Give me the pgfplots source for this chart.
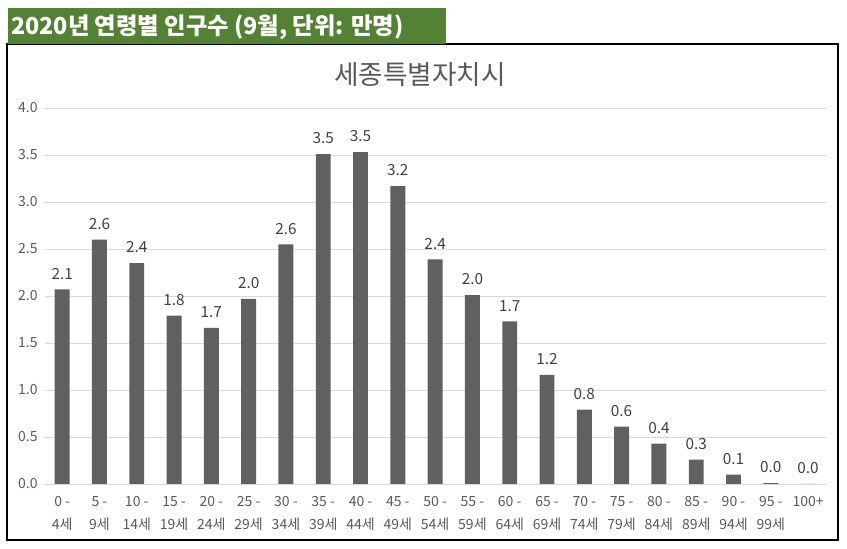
\documentclass[border=0pt]{standalone}
\usepackage{fontspec}
\setmainfont{Noto Sans CJK KR}
\usepackage{pgfplots}
\pgfplotsset{compat=1.18}
\definecolor{bargray}{HTML}{606060}
\definecolor{gridgray}{HTML}{D9D9D9}
\definecolor{txtgray}{HTML}{595959}
\definecolor{bannergreen}{HTML}{548235}
\begin{document}
\begin{tikzpicture}[x=0.75pt,y=0.75pt]
\path[fill=white] (0,0) rectangle (847,549);
% chart box
\draw[black, line width=0.8pt] (7,9) rectangle (838,505);
% banner
\fill[bannergreen] (8,505) rectangle (446,541);
\node[anchor=base west, text=white, font=\bfseries\fontsize{17.5}{19}\selectfont, inner sep=0pt] at (11,514) {2020년 연령별 인구수 (9월, 단위: 만명)};
% chart title
\node[text=txtgray, font=\fontsize{20}{22}\selectfont] at (420,474) {세종특별자치시};
\coordinate (A) at (45,65);
\begin{axis}[
  at={(A)}, anchor=south west,
  scale only axis,
  width=585.75pt, height=282pt,
  ymin=0, ymax=4,
  xmin=-0.46, xmax=20.48,
  ytick={0,0.5,...,4.0},
  /pgf/number format/fixed,
  /pgf/number format/fixed zerofill,
  /pgf/number format/precision=1,
  /pgf/number format/assume math mode=true,
  yticklabel style={text=txtgray, font=\fontsize{10.5}{12}\selectfont, xshift=-2pt},
  ymajorgrids, grid style={gridgray, line width=0.6pt},
  axis line style={draw=none},
  axis x line*=bottom,
  x axis line style={draw=gridgray, line width=0.6pt},
  major tick length=0pt,
  xtick=data,
  xticklabels={{0 -\\4세},{5 -\\9세},{10 -\\14세},{15 -\\19세},{20 -\\24세},{25 -\\29세},{30 -\\34세},{35 -\\39세},{40 -\\44세},{45 -\\49세},{50 -\\54세},{55 -\\59세},{60 -\\64세},{65 -\\69세},{70 -\\74세},{75 -\\79세},{80 -\\84세},{85 -\\89세},{90 -\\94세},{95 -\\99세},{100+}},
  xticklabel style={align=center, text=txtgray, font=\fontsize{10.5}{17}\selectfont, anchor=north, yshift=-6pt},
  ybar, bar width=0.4,
  nodes near coords,
  every node near coord/.append style={text=black!75, font=\fontsize{11.5}{13}\selectfont, yshift=4pt},
  clip=false,
]
\addplot[fill=bargray, draw=none] coordinates {
(0,2.07) (1,2.60) (2,2.35) (3,1.79) (4,1.66) (5,1.97) (6,2.55) (7,3.51) (8,3.53) (9,3.17)
(10,2.39) (11,2.01) (12,1.73) (13,1.16) (14,0.79) (15,0.61) (16,0.43) (17,0.26) (18,0.10) (19,0.01) (20,0.002)
};
\end{axis}
\end{tikzpicture}
\end{document}
